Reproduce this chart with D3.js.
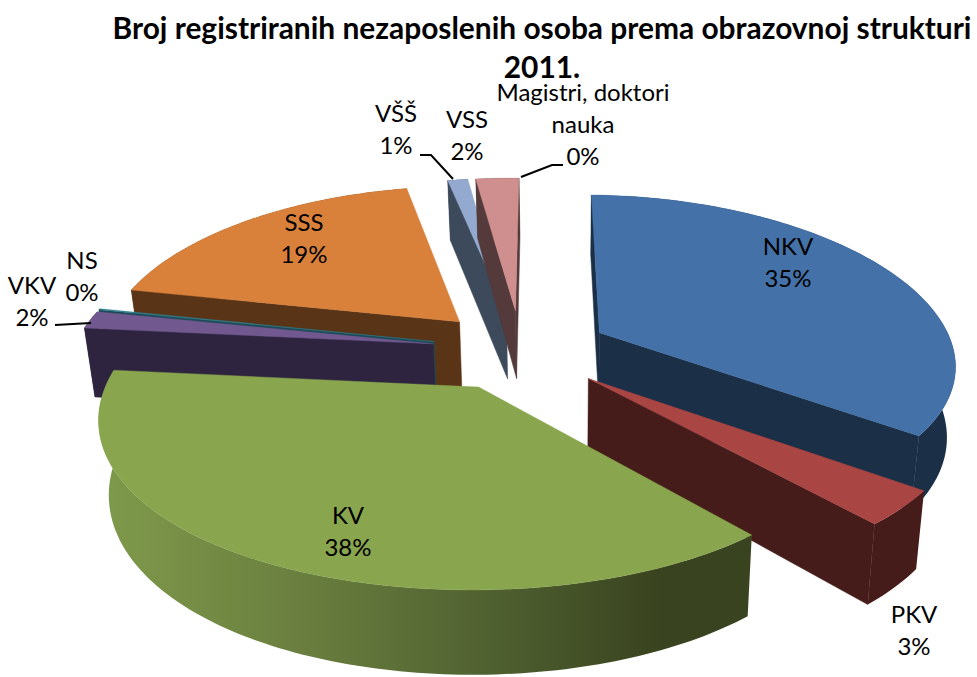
<!DOCTYPE html>
<html><head><meta charset="utf-8">
<script src="https://cdn.jsdelivr.net/npm/d3@7"></script>
<style>html,body{margin:0;padding:0;background:#fff}svg{display:block}text{font-family:Lato,"Open Sans",sans-serif;fill:#000}</style>
</head><body><svg id="c" width="977" height="677"></svg>
<script>
const categories=["NKV","PKV","KV","VKV","NS","SSS","VŠŠ","VSS","Magistri, doktori nauka"];
const values=[35.2,3.5,38.0,1.7,0.1,18.6,1.1,2.35,0.02];
const percentLabels=["35%","3%","38%","2%","0%","19%","1%","2%","0%"];
const titleLines=["Broj registriranih nezaposlenih osoba prema obrazovnoj strukturi","2011."];
const topColors=["#4472a8","#a94543","#89a54e","#71588f","#2f7f92","#d9813b","#93a9cf","#cf8f8e","#cf8f8e"];
const wallColors=["#1b2f47","#451c1a","#3a4420","#2e243f","#1c4a55","#5a3417","#3c4a5c","#553a3b","#553a3b"];
const drawOrder=[5,6,7,8,0,4,3,1,2];
const labelLines=[["NKV"],["PKV"],["KV"],["VKV"],["NS"],["SSS"],["VŠŠ"],["VSS"],["Magistri, doktori","nauka"]];
const labelAnchors=[[788,246],[914,614],[348,515],[32,285],[82,260],[304,222],[396,113],[467,119],[583,92]];
const leaders=[[3,[[55,325],[91,323]]],[6,[[420,155],[431,155],[453,179]]],[8,[[563,165],[552,165],[521,177]]]];

const svg=d3.select("#c");
const cx=521,cy=350,vx=565,rx=357,ry=162,perspY=7,perspX=5.9,explode=0.25,depth=70,lowShrink=0.978,shearY=5,tilt=-0.6*Math.PI/180;
const slices=d3.pie().sort(null).startAngle(tilt).endAngle(tilt+2*Math.PI).value(d=>d)(values);
function world(sl,th){const m=(sl.startAngle+sl.endAngle)/2;
  return [explode*Math.sin(m)+(th==null?0:Math.sin(th)),-explode*Math.cos(m)-(th==null?0:Math.cos(th))];}
function proj(p,low){const sx=perspX/(perspX-p[1]),s=perspY/(perspY-p[1]);
  let x=vx+(cx-vx+rx*p[0])*sx,y=cy+(ry*p[1]+shearY*p[0])*s;
  if(low){x=vx+(x-vx)*lowShrink;y+=depth*s;}
  return [x,y];}
const line=d3.line();
const defs=svg.append("defs");
const grad=defs.append("linearGradient").attr("id","kvSide").attr("gradientUnits","userSpaceOnUse").attr("x1",100).attr("x2",760).attr("y1",0).attr("y2",0);
[[0,"#7f9a4b"],[0.3,"#6a7f3f"],[0.6,"#4f6030"],[0.85,"#39431f"],[1,"#39431f"]].forEach(d=>grad.append("stop").attr("offset",d[0]).attr("stop-color",d[1]));

drawOrder.forEach(i=>{const sl=slices[i];
  if(sl.endAngle-sl.startAngle<0.002) return; // too thin to show at this size
  const g=svg.append("g");
  const n=Math.max(2,Math.ceil((sl.endAngle-sl.startAngle)/0.02));
  const ths=d3.range(n+1).map(k=>sl.startAngle+(sl.endAngle-sl.startAngle)*k/n);
  const arcTop=ths.map(t=>proj(world(sl,t)));
  const arcLow=ths.map(t=>proj(world(sl,t),true));
  const apex=proj(world(sl)),apexLow=proj(world(sl),true);
  const poly=[apex,...arcTop];
  const c=d3.polygonCentroid(poly);
  const wall=(a,al,b,bl)=>{
    const cross=(p)=>(b[0]-a[0])*(p[1]-a[1])-(b[1]-a[1])*(p[0]-a[0]);
    if(cross([a[0],a[1]+1])*cross(c)<0)
      g.append("path").attr("d",line([a,b,bl,al])+"Z").attr("fill",wallColors[i]).attr("stroke",wallColors[i]).attr("stroke-width",0.5);
  };
  const outer=[...arcTop,...arcLow.slice().reverse()];
  g.append("path").attr("d",line(outer)+"Z").attr("fill",i===2?"url(#kvSide)":wallColors[i]);
  wall(apex,apexLow,arcTop[0],arcLow[0]);
  wall(apex,apexLow,arcTop[n],arcLow[n]);
  g.append("path").attr("d",line(poly)+"Z").attr("fill",topColors[i]).attr("stroke",topColors[i]).attr("stroke-width",0.4);
});

svg.selectAll(".title").data(titleLines).join("text").attr("class","title")
  .attr("x",542).attr("y",(d,i)=>i?78:39).attr("text-anchor","middle")
  .attr("font-size",29.9).attr("font-weight",700).text(d=>d);

categories.forEach((cat,i)=>{const a=labelAnchors[i];
  const lines=[...labelLines[i],percentLabels[i]];
  const t=svg.append("text").attr("text-anchor","middle").attr("font-size",24);
  lines.forEach((s,k)=>t.append("tspan").attr("x",a[0]).attr("y",a[1]+9+k*32).text(s));
});
leaders.forEach(([i,pts])=>svg.append("path").attr("d",line(pts)).attr("fill","none").attr("stroke","#000").attr("stroke-width",2));
</script></body></html>
